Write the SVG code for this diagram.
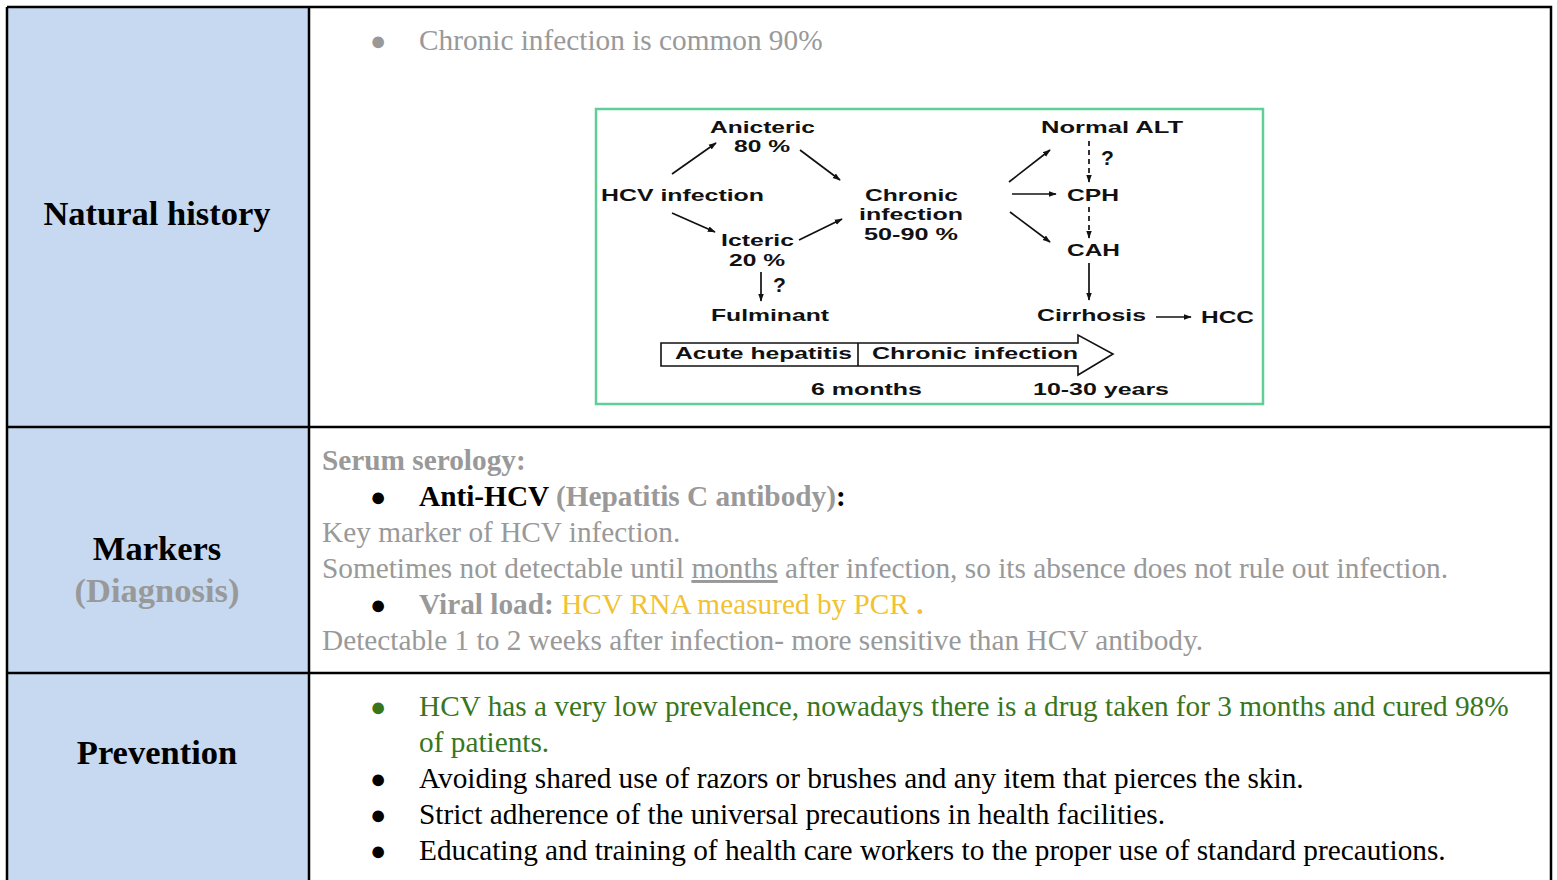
<svg xmlns="http://www.w3.org/2000/svg" width="1557" height="880" viewBox="0 0 1557 880">
<defs>
<style>
.lab{font-family:"Liberation Serif",serif;font-weight:bold;font-size:34.5px;text-anchor:middle;fill:#000}
.t{font-family:"Liberation Serif",serif;font-size:29.3px;fill:#999}
.bul{font-family:"Liberation Serif",serif;font-size:27px;fill:#999}
.b{font-weight:bold}
.blk{fill:#000}
.grn{fill:#38761d}
.yel{fill:#f1c232}
.fc{font-family:"Liberation Sans",Arial,sans-serif;font-weight:bold;font-size:17px;fill:#111}
.q{font-size:21px}
.ar{stroke:#111;stroke-width:1.7;fill:none;marker-end:url(#ah)}
.ds{stroke-dasharray:5,4}
</style>
<marker id="ah" viewBox="0 0 10 10" refX="9" refY="5" markerWidth="8" markerHeight="8" orient="auto" markerUnits="userSpaceOnUse"><path d="M0,1.5 L10,5 L0,8.5 z" fill="#111"/></marker>
</defs>
<rect width="1557" height="880" fill="#fff"/>
<g id="table">
<rect x="7" y="7" width="302" height="880" fill="#c6d9f0"/>
<path d="M7,7 H1551 V887 M7,7 V887 M309,7 V887 M7,427 H1551 M7,673 H1551" stroke="#000" stroke-width="2.5" fill="none"/>
</g>
<g id="row-natural-history">
<text class="lab" x="157" y="225">Natural history</text>
<text class="bul" x="370" y="50">●</text>
<text class="t" x="419" y="50">Chronic infection is common 90%</text>
</g>
<g id="flowchart">
<rect x="596" y="109" width="667" height="295" fill="#fff" stroke="#5fcf98" stroke-width="2.5"/>
<g id="fc-anicteric"><text class="fc" x="710" y="133" textLength="105" lengthAdjust="spacingAndGlyphs">Anicteric</text><text class="fc" x="734" y="152" textLength="56" lengthAdjust="spacingAndGlyphs">80 %</text></g>
<g id="fc-hcv"><text class="fc" x="601" y="201" textLength="163" lengthAdjust="spacingAndGlyphs">HCV infection</text></g>
<g id="fc-chronic"><text class="fc" x="865" y="201" textLength="93" lengthAdjust="spacingAndGlyphs">Chronic</text><text class="fc" x="859" y="220" textLength="104" lengthAdjust="spacingAndGlyphs">infection</text><text class="fc" x="864" y="240" textLength="94" lengthAdjust="spacingAndGlyphs">50-90 %</text></g>
<g id="fc-icteric"><text class="fc" x="721" y="246" textLength="73" lengthAdjust="spacingAndGlyphs">Icteric</text><text class="fc" x="729" y="266" textLength="56" lengthAdjust="spacingAndGlyphs">20 %</text></g>
<g id="fc-fulminant"><text class="fc" x="711" y="321" textLength="118" lengthAdjust="spacingAndGlyphs">Fulminant</text></g>
<g id="fc-normal"><text class="fc" x="1041" y="133" textLength="142" lengthAdjust="spacingAndGlyphs">Normal ALT</text></g>
<g id="fc-cph"><text class="fc" x="1067" y="201" textLength="52" lengthAdjust="spacingAndGlyphs">CPH</text></g>
<g id="fc-cah"><text class="fc" x="1067" y="256" textLength="53" lengthAdjust="spacingAndGlyphs">CAH</text></g>
<g id="fc-cirrhosis"><text class="fc" x="1037" y="321" textLength="109" lengthAdjust="spacingAndGlyphs">Cirrhosis</text></g>
<g id="fc-hcc"><text class="fc" x="1201" y="323" textLength="53" lengthAdjust="spacingAndGlyphs">HCC</text></g>
<g id="fc-timeline">
<path d="M661,343 H1078 V335 L1113,354 L1078,375 V366 H661 Z M858,343 V366" fill="#fff" stroke="#111" stroke-width="1.6"/>
<text class="fc" x="675" y="359" textLength="177" lengthAdjust="spacingAndGlyphs">Acute hepatitis</text>
<text class="fc" x="872" y="359" textLength="206" lengthAdjust="spacingAndGlyphs">Chronic infection</text>
<text class="fc" x="811" y="395" textLength="111" lengthAdjust="spacingAndGlyphs">6 months</text>
<text class="fc" x="1033" y="395" textLength="136" lengthAdjust="spacingAndGlyphs">10-30 years</text>
</g>
<g id="connectors">
<line class="ar" x1="672" y1="174" x2="716" y2="143"/>
<line class="ar" x1="800" y1="150" x2="840" y2="180"/>
<line class="ar" x1="672" y1="213" x2="715" y2="232"/>
<line class="ar" x1="799" y1="240" x2="842" y2="219"/>
<line class="ar" x1="761" y1="272" x2="761" y2="301"/>
<line class="ar" x1="1009" y1="182" x2="1050" y2="150"/>
<line class="ar" x1="1012" y1="194" x2="1056" y2="194"/>
<line class="ar" x1="1010" y1="212" x2="1050" y2="242"/>
<line class="ar ds" x1="1089" y1="141" x2="1089" y2="182"/>
<line class="ar ds" x1="1089" y1="207" x2="1089" y2="238"/>
<line class="ar" x1="1089" y1="263" x2="1089" y2="300"/>
<line class="ar" x1="1156" y1="317" x2="1191" y2="317"/>
<text class="fc q" x="773" y="292">?</text>
<text class="fc q" x="1101" y="165">?</text>
</g>
</g>
<g id="row-markers">
<text class="lab" x="157" y="560">Markers</text>
<text class="lab" x="157" y="602" style="fill:#999">(Diagnosis)</text>
<text class="t b" x="322" y="470">Serum serology:</text>
<text class="bul blk" x="370" y="506">●</text>
<text class="t b" x="419" y="506"><tspan class="blk">Anti-HCV</tspan> (Hepatitis C antibody)<tspan class="blk">:</tspan></text>
<text class="t" x="322" y="542">Key marker of HCV infection.</text>
<text class="t" x="322" y="578">Sometimes not detectable until <tspan text-decoration="underline">months</tspan> after infection, so its absence does not rule out infection.</text>
<text class="bul blk" x="370" y="614">●</text>
<text class="t" x="419" y="614"><tspan class="b">Viral load:</tspan> <tspan class="yel">HCV RNA measured by PCR</tspan> <tspan class="yel b">.</tspan></text>
<text class="t" x="322" y="650">Detectable 1 to 2 weeks after infection- more sensitive than HCV antibody.</text>
</g>
<g id="row-prevention">
<text class="lab" x="157" y="764">Prevention</text>
<text class="bul grn" x="370" y="716">●</text>
<text class="t grn" x="419" y="716">HCV has a very low prevalence, nowadays there is a drug taken for 3 months and cured 98%</text>
<text class="t grn" x="419" y="752">of patients.</text>
<text class="bul blk" x="370" y="788">●</text>
<text class="t blk" x="419" y="788">Avoiding shared use of razors or brushes and any item that pierces the skin.</text>
<text class="bul blk" x="370" y="824">●</text>
<text class="t blk" x="419" y="824">Strict adherence of the universal precautions in health facilities.</text>
<text class="bul blk" x="370" y="860">●</text>
<text class="t blk" x="419" y="860">Educating and training of health care workers to the proper use of standard precautions.</text>
</g>
</svg>
